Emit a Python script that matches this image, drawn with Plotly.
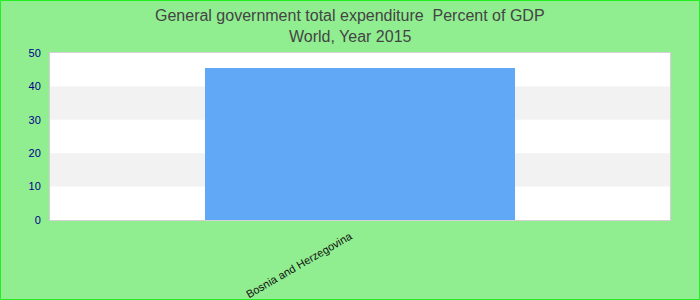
import plotly.graph_objects as go

categories = ["Bosnia and Herzegovina"]
values = [45.5]
y_ticks = [0, 10, 20, 30, 40, 50]
title_lines = ["General government total expenditure  Percent of GDP", "World, Year 2015"]

W, H = 700, 300
ml, mr, mt, mb = 50, 30, 53, 80
pw, ph = W - ml - mr, H - mt - mb

fig = go.Figure()
fig.add_trace(go.Bar(x=categories, y=values, marker=dict(color="#61a9f6", line=dict(width=0)), width=0.5))

shapes = []
# alternating bands
for i in range(len(y_ticks) - 1):
    if i % 2 == 1:
        shapes.append(dict(type="rect", xref="paper", yref="y", x0=0, x1=1,
                           y0=y_ticks[i], y1=y_ticks[i + 1], fillcolor="#f2f2f2",
                           line=dict(width=0), layer="below"))
# page border
shapes.append(dict(type="rect", xref="paper", yref="paper",
                   x0=-(ml - 0.5) / pw, x1=1 + (mr - 0.5) / pw,
                   y0=-(mb - 0.5) / ph, y1=1 + (mt - 0.5) / ph,
                   line=dict(color="#22ee22", width=1), fillcolor="rgba(0,0,0,0)"))

title_font = dict(family="Liberation Sans, Arial", size=16, color="#444444")
annotations = [
    dict(text=title_lines[0], xref="paper", yref="paper", x=(W / 2 - ml) / pw,
         y=1 + (mt - 16) / ph, showarrow=False, xanchor="center", yanchor="middle",
         font=title_font),
    dict(text=title_lines[1], xref="paper", yref="paper", x=(W / 2 - ml) / pw,
         y=1 + (mt - 37) / ph, showarrow=False, xanchor="center", yanchor="middle",
         font=title_font),
]

fig.update_layout(
    width=W, height=H,
    margin=dict(l=ml, r=mr, t=mt, b=mb, autoexpand=False),
    paper_bgcolor="#90ee90",
    plot_bgcolor="white",
    showlegend=False,
    shapes=shapes,
    annotations=annotations,
    font=dict(family="Liberation Sans, Arial"),
    xaxis=dict(showgrid=False, showline=True, linecolor="#d3d3d3", linewidth=1, mirror=True,
               tickangle=-30, tickfont=dict(size=11, color="#111111"), ticks="",
               ticklabelshift=-10, ticklabelstandoff=5,
               range=[-0.5, 0.5], fixedrange=True),
    yaxis=dict(showgrid=False, showline=True, linecolor="#d3d3d3", linewidth=1, mirror=True,
               range=[0, 50], tickvals=y_ticks, tickfont=dict(size=11, color="#00008b"),
               ticks="outside", ticklen=6, tickcolor="rgba(0,0,0,0)", zeroline=False),
)

fig.write_html("out.html")
